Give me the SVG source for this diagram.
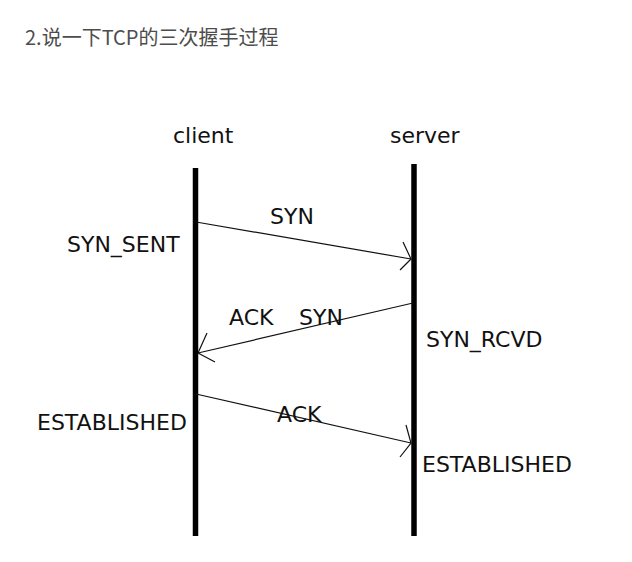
<svg xmlns="http://www.w3.org/2000/svg" width="632" height="562" viewBox="0 0 632 562">
<style>
.t{font-family:"DejaVu Sans","Noto Sans",sans-serif;font-size:22px;fill:#111}
.title{font-family:"Noto Sans CJK SC","Noto Sans",sans-serif;font-size:20px;fill:#4d4d4d}
.life{stroke:#000;stroke-width:5.5;fill:none}
.msg{stroke:#111;stroke-width:1.2;fill:none}
</style>
<rect width="632" height="562" fill="#fff"/>
<text class="title" x="25" y="45">2.说一下TCP的三次握手过程</text>
<g id="client">
<text class="t" x="173" y="143">client</text>
<line class="life" x1="195.5" y1="168" x2="195.5" y2="536"/>
</g>
<g id="server">
<text class="t" x="390" y="143">server</text>
<line class="life" x1="414" y1="164" x2="414" y2="536"/>
</g>
<g id="states">
<text class="t" x="67" y="252">SYN_SENT</text>
<text class="t" x="426" y="347">SYN_RCVD</text>
<text class="t" x="37" y="430">ESTABLISHED</text>
<text class="t" x="422" y="472">ESTABLISHED</text>
</g>
<g id="connectors">
<path class="msg" d="M196,222 L411,259 M403,242 L411,259 L400,270"/>
<path class="msg" d="M413,303 L198,353 M207,333 L198,353 L215,362"/>
<path class="msg" d="M196,394 L411,443 M406,425 L411,443 L400,457"/>
<text class="t" x="270" y="224">SYN</text>
<text class="t" x="229" y="325">ACK</text>
<text class="t" x="299" y="325">SYN</text>
<text class="t" x="277" y="422">ACK</text>
</g>
</svg>
